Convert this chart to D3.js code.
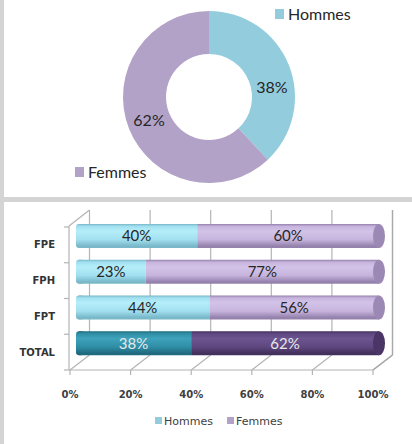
<!DOCTYPE html>
<html>
<head>
<meta charset="utf-8">
<script src="https://cdn.jsdelivr.net/npm/d3@7"></script>
<style>
  html, body { margin: 0; padding: 0; background: #d4d4d4; }
  #chart { width: 412px; height: 444px; }
</style>
</head>
<body>
<div id="chart"></div>
<script>
// donut
const donutLabels = ["Hommes", "Femmes"];
const donutValues = [38, 62];

// barres empilées
const categories = ["FPE", "FPH", "FPT", "TOTAL"];
const hommesValues = [40, 23, 44, 38];
const femmesValues = [60, 77, 56, 62];
const xTicks = [0, 20, 40, 60, 80, 100];

const W = 412, H = 444;

const svg = d3.select("#chart")
    .append("svg")
    .attr("width", W)
    .attr("height", H);

// fond gris + deux panneaux blancs
svg.append("rect").attr("width", W).attr("height", H).attr("fill", "#d4d4d4");
svg.append("rect").attr("x", 4).attr("y", 0).attr("width", W - 4).attr("height", 197).attr("fill", "#fff");
svg.append("rect").attr("x", 4).attr("y", 202).attr("width", W - 4).attr("height", H - 202).attr("fill", "#fff");

const defs = svg.append("defs");

// ---------- donut ----------
const donutColors = d3.scaleOrdinal().domain(donutLabels).range(["#93cddd", "#b3a2c7"]);
const cx = 209, cy = 97;

const pie = d3.pie().sort(null).value(d => d.v);
const arcs = pie(donutLabels.map((k, i) => ({ k: k, v: donutValues[i] })));

const arc = d3.arc().innerRadius(43).outerRadius(86);
const labelArc = d3.arc().innerRadius(64.5).outerRadius(64.5);

const donut = svg.append("g").attr("transform", `translate(${cx},${cy})`);

donut.selectAll("path")
    .data(arcs)
    .enter()
    .append("path")
    .attr("d", arc)
    .attr("fill", d => donutColors(d.data.k));

donut.selectAll("text")
    .data(arcs)
    .enter()
    .append("text")
    .attr("x", d => labelArc.centroid(d)[0] + (d.index == 0 ? 3 : 0))
    .attr("y", d => labelArc.centroid(d)[1] + (d.index == 0 ? 14 : 0))
    .attr("dy", "0.35em")
    .attr("text-anchor", "middle")
    .attr("font-family", "Lato, 'Open Sans', sans-serif")
    .attr("font-size", "16px")
    .attr("fill", "#262626")
    .text(d => d.data.v + "%");

// légendes du donut
const donutLegendPos = { "Hommes": [275, 14], "Femmes": [75, 172] };
donutLabels.forEach(k => {
    const p = donutLegendPos[k];
    svg.append("rect")
        .attr("x", p[0]).attr("y", p[1] - 5)
        .attr("width", 9).attr("height", 10)
        .attr("fill", donutColors(k));
    svg.append("text")
        .attr("x", p[0] + 13).attr("y", p[1])
        .attr("dy", "0.35em")
        .attr("font-family", "Lato, 'Open Sans', sans-serif")
        .attr("font-size", "16px")
        .attr("fill", "#262626")
        .text(k);
});

// ---------- barres 3D ----------
const depth = { dx: 19.5, dy: -15 };
const floorY = 370;
const wallTop = 210;

const x = d3.scaleLinear().domain([0, 100]).range([70, 373]);
const xBar = d3.scaleLinear().domain([0, 100]).range([76, 379]);
const y = d3.scaleBand().domain(categories).range([227, floorY]).padding(0);

const g3 = svg.append("g");
const gridColor = "#b4b4b4";

// murs : lignes verticales du fond
g3.selectAll(".wall-line")
    .data(xTicks)
    .enter()
    .append("line")
    .attr("x1", d => x(d) + depth.dx)
    .attr("x2", d => x(d) + depth.dx)
    .attr("y1", wallTop)
    .attr("y2", floorY + depth.dy)
    .attr("stroke", gridColor)
    .attr("stroke-width", 1.2);

// sol : diagonales
g3.selectAll(".floor-line")
    .data(xTicks)
    .enter()
    .append("line")
    .attr("x1", d => x(d))
    .attr("x2", d => x(d) + depth.dx)
    .attr("y1", floorY)
    .attr("y2", floorY + depth.dy)
    .attr("stroke", gridColor)
    .attr("stroke-width", 1.2);

// axe vertical avant + diagonale en haut
g3.append("line")
    .attr("x1", x(0) - 1).attr("x2", x(0) - 1)
    .attr("y1", 226).attr("y2", floorY)
    .attr("stroke", gridColor).attr("stroke-width", 1.2);
g3.append("line")
    .attr("x1", x(0) - 1).attr("y1", 226)
    .attr("x2", x(0) + depth.dx).attr("y2", wallTop)
    .attr("stroke", gridColor).attr("stroke-width", 1.2);

// graduations à gauche
const yTicks = categories.map(c => y(c)).concat([floorY]);
g3.selectAll(".ytick")
    .data(yTicks)
    .enter()
    .append("line")
    .attr("x1", x(0) - 6).attr("x2", x(0) - 1)
    .attr("y1", d => d).attr("y2", d => d)
    .attr("stroke", gridColor).attr("stroke-width", 1.2);

// axe horizontal avant
g3.append("line")
    .attr("x1", x(0) - 1).attr("x2", x(100))
    .attr("y1", floorY).attr("y2", floorY)
    .attr("stroke", gridColor).attr("stroke-width", 1.2);
g3.selectAll(".xtick")
    .data(xTicks)
    .enter()
    .append("line")
    .attr("x1", d => x(d)).attr("x2", d => x(d))
    .attr("y1", floorY).attr("y2", floorY + 5)
    .attr("stroke", gridColor).attr("stroke-width", 1.2);

// dégradés cylindriques
function cylGradient(id, light, base, dark) {
    const gr = defs.append("linearGradient")
        .attr("id", id)
        .attr("x1", "0%").attr("y1", "0%")
        .attr("x2", "0%").attr("y2", "100%");
    gr.append("stop").attr("offset", "0%").attr("stop-color", dark);
    gr.append("stop").attr("offset", "10%").attr("stop-color", base);
    gr.append("stop").attr("offset", "30%").attr("stop-color", light);
    gr.append("stop").attr("offset", "65%").attr("stop-color", base);
    gr.append("stop").attr("offset", "92%").attr("stop-color", dark);
    gr.append("stop").attr("offset", "100%").attr("stop-color", dark);
}
cylGradient("h-light", "#b5eefa", "#a2e0f0", "#78b8c8");
cylGradient("f-light", "#d3c3e8", "#c6b4dd", "#9582ac");
cylGradient("h-dark", "#3ea3bb", "#2f8ea6", "#206a7e");
cylGradient("f-dark", "#6c5590", "#5f477f", "#43305d");

const barH = 24, barOff = -3;

const bars = svg.append("g");
categories.forEach((c, i) => {
    const isTotal = c == "TOTAL";
    const hFill = isTotal ? "url(#h-dark)" : "url(#h-light)";
    const fFill = isTotal ? "url(#f-dark)" : "url(#f-light)";
    const capFill = isTotal ? "#4a3566" : "#9c88b4";
    const by = y(c) + barOff;
    const h = hommesValues[i], f = femmesValues[i];

    // bout arrondi gauche
    bars.append("rect")
        .attr("x", xBar(0)).attr("y", by)
        .attr("width", 8).attr("height", barH)
        .attr("rx", 3)
        .attr("fill", hFill);
    bars.append("rect")
        .attr("x", xBar(0) + 3).attr("y", by)
        .attr("width", xBar(h) - xBar(0) - 3).attr("height", barH)
        .attr("fill", hFill);
    bars.append("rect")
        .attr("x", xBar(h)).attr("y", by)
        .attr("width", xBar(h + f) - xBar(h)).attr("height", barH)
        .attr("fill", fFill);
    // bout du cylindre
    bars.append("ellipse")
        .attr("cx", xBar(h + f)).attr("cy", by + barH / 2)
        .attr("rx", 6).attr("ry", barH / 2)
        .attr("fill", capFill);

    const labelColor = isTotal ? "#e8e8e8" : "#262626";
    [[0, h], [h, h + f]].forEach(seg => {
        bars.append("text")
            .attr("x", xBar((seg[0] + seg[1]) / 2))
            .attr("y", by + barH / 2)
            .attr("dy", "0.35em")
            .attr("text-anchor", "middle")
            .attr("font-family", "Lato, 'Open Sans', sans-serif")
            .attr("font-size", "15px")
            .attr("fill", labelColor)
            .text((seg[1] - seg[0]) + "%");
    });
});

// lignes du mur droit (devant les barres)
g3.append("line")
    .attr("x1", x(100) + depth.dx).attr("x2", x(100) + depth.dx)
    .attr("y1", wallTop).attr("y2", floorY + depth.dy)
    .attr("stroke", "#a8a8a8").attr("stroke-width", 1.3);
svg.append("line")
    .attr("x1", x(100)).attr("y1", floorY)
    .attr("x2", x(100) + depth.dx).attr("y2", floorY + depth.dy)
    .attr("stroke", "#a8a8a8").attr("stroke-width", 1.3);

// étiquettes de catégories
svg.selectAll(".cat")
    .data(categories)
    .enter()
    .append("text")
    .attr("x", 55)
    .attr("y", d => y(d) + y.bandwidth() / 2)
    .attr("dy", "0.35em")
    .attr("text-anchor", "end")
    .attr("font-family", "'DejaVu Sans', sans-serif")
    .attr("font-weight", "bold")
    .attr("font-size", "10px")
    .attr("fill", "#333")
    .text(d => d);

// étiquettes de l'axe X
svg.selectAll(".xlab")
    .data(xTicks)
    .enter()
    .append("text")
    .attr("x", d => x(d))
    .attr("y", 394)
    .attr("dy", "0.35em")
    .attr("text-anchor", "middle")
    .attr("font-family", "'DejaVu Sans', sans-serif")
    .attr("font-weight", "bold")
    .attr("font-size", "10px")
    .attr("fill", "#404040")
    .text(d => d + "%");

// légende du bas
const legendX = { "Hommes": 155, "Femmes": 227 };
const legendColors = { "Hommes": "#93cddd", "Femmes": "#b3a2c7" };
donutLabels.forEach(k => {
    svg.append("rect")
        .attr("x", legendX[k]).attr("y", 417)
        .attr("width", 7).attr("height", 7)
        .attr("fill", legendColors[k]);
    svg.append("text")
        .attr("x", legendX[k] + 9).attr("y", 421)
        .attr("dy", "0.35em")
        .attr("font-family", "'DejaVu Sans', sans-serif")
        .attr("font-size", "11px")
        .attr("fill", "#404040")
        .text(k);
});
</script>
</body>
</html>
